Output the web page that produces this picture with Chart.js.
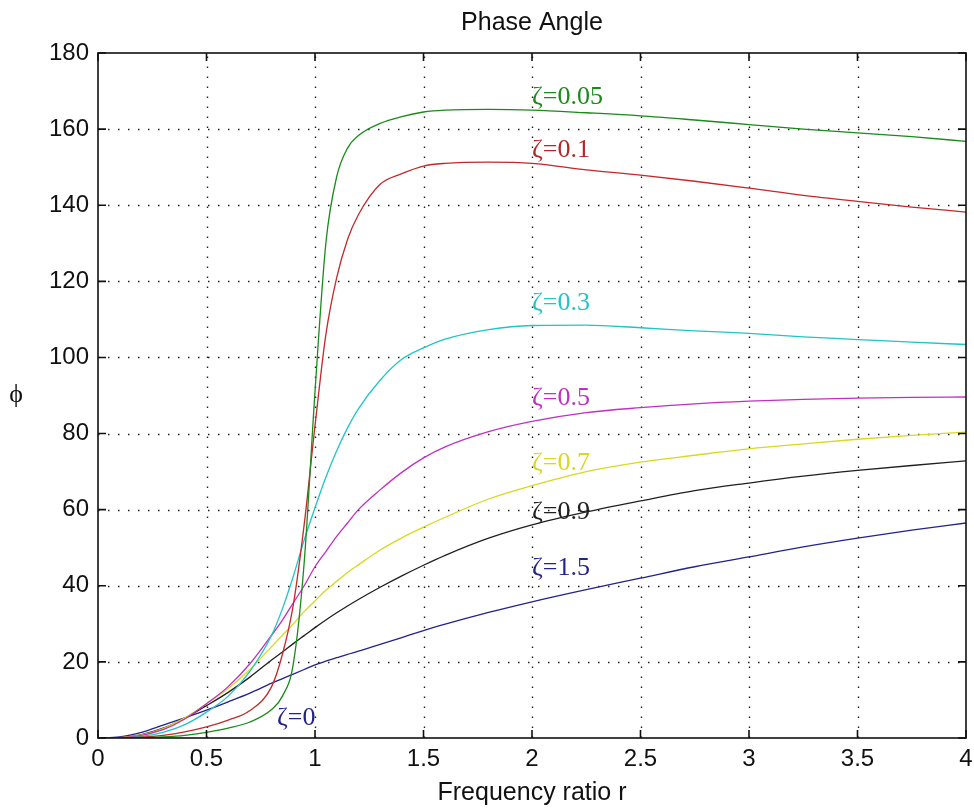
<!DOCTYPE html>
<html>
<head>
<meta charset="utf-8">
<script src="https://cdn.jsdelivr.net/npm/chart.js@4/dist/chart.umd.min.js"></script>
<style>
html,body{margin:0;padding:0;background:#fff;}
#c{display:block;}
</style>
</head>
<body>
<canvas id="c" width="974" height="811"></canvas>
<script>
// Frequency ratio r (sample positions)
const ratio = [0,0.1,0.2,0.3,0.4,0.5,0.6,0.7,0.8,0.85,0.9,0.95,1.0,1.05,1.1,1.15,1.2,1.3,1.4,1.5,1.6,1.8,2.0,2.25,2.5,2.75,3.0,3.25,3.5,3.75,4.0];

// Phase angle (deg) per damping ratio
const zeta005 = [0,0,0.1,0.3,0.7,1.5,2.6,4.2,7.5,11,19.5,46,91,130,147.5,155,158.3,161.5,163.3,164.5,165,165.2,165,164.3,163.5,162.4,161.2,160,159,158,156.8];
const zeta01  = [0,0,0.2,0.7,1.6,2.9,4.7,7.2,13.5,22,35,56,82,106,121,131,137.5,145.5,148.3,150.3,151,151.3,151,149.3,147.9,146.3,144.5,142.6,141,139.5,138.2];
const zeta03  = [0,0,0.4,1.5,3.5,6.8,11,17.5,27,34,42.5,52,60.5,68.5,75.5,81.5,86.5,94,99.5,102.5,104.8,107.3,108.4,108.5,107.8,107,106.3,105.4,104.7,104,103.4];
const zeta05  = [0,0.1,0.7,2.2,5,9,13.5,19.5,27,31,35.5,40,45,49,53,56.5,60,65.2,69.8,73.6,76.5,80.5,83.2,85.5,86.8,87.8,88.5,89,89.3,89.5,89.6];
const zeta07  = [0,0.1,0.8,2.5,5.3,9,13,18,24,27,30,33.2,36,38.8,41.2,43.5,45.5,49.4,52.6,55.4,58,62.8,66.3,70,72.5,74.3,76,77.3,78.5,79.5,80.4];
const zeta09  = [0,0.1,0.9,2.6,5.2,8.5,12,16,20.5,22.6,24.8,26.9,29,31,32.9,34.7,36.4,39.6,42.6,45.4,48,52.5,56,59.4,62.3,65,67,68.8,70.3,71.6,72.8];
const zeta15  = [0,0.3,1.5,3.4,5.3,7.3,9.5,11.8,14.4,15.6,16.8,18,19.2,20.2,21.1,22,22.8,24.6,26.4,28.2,29.9,33,35.8,39,42,45,47.6,50.2,52.5,54.6,56.5];

// Axis tick values
const xTicks = [0,0.5,1,1.5,2,2.5,3,3.5,4];
const yTicks = [0,20,40,60,80,100,120,140,160,180];

// Curve annotations: text and anchor in data units
const curveLabels = [
  {text:'ζ=0.05', x:2.0, y:168.4, color:'#1a8a1a'},
  {text:'ζ=0.1',  x:2.0, y:154.5, color:'#b02828'},
  {text:'ζ=0.3',  x:2.0, y:114.3, color:'#22c4c4'},
  {text:'ζ=0.5',  x:2.0, y:89.3,  color:'#c030c0'},
  {text:'ζ=0.7',  x:2.0, y:72.3,  color:'#d8d820'},
  {text:'ζ=0.9',  x:2.0, y:59.4,  color:'#202020'},
  {text:'ζ=1.5',  x:2.0, y:44.7,  color:'#23238a'},
  {text:'ζ=0',    x:0.825, y:5.3, color:'#23238a'}
];

const seriesDefs = [
  {name:'ζ=0.05', data:zeta005, color:'#1a8a1a'},
  {name:'ζ=0.1',  data:zeta01,  color:'#c02a2a'},
  {name:'ζ=0.3',  data:zeta03,  color:'#22c4c4'},
  {name:'ζ=0.5',  data:zeta05,  color:'#c030c0'},
  {name:'ζ=0.7',  data:zeta07,  color:'#d8d820'},
  {name:'ζ=0.9',  data:zeta09,  color:'#202020'},
  {name:'ζ=1.5',  data:zeta15,  color:'#23238a'}
];

const SANS = '"Liberation Sans", Arial, sans-serif';
const SERIF = '"Liberation Serif", "Times New Roman", serif';

const framePlugin = {
  id:'frame',
  beforeDatasetsDraw(chart){
    const {ctx, chartArea:a, scales:{x,y}} = chart;
    ctx.save();
    ctx.strokeStyle = '#222';
    ctx.lineWidth = 1.4;
    ctx.setLineDash([1.5,8.5]);
    xTicks.forEach(v=>{
      const px = Math.round(x.getPixelForValue(v))+0.5;
      if (px<=a.left+1 || px>=a.right-1) return;
      ctx.beginPath(); ctx.moveTo(px,a.bottom); ctx.lineTo(px,a.top); ctx.stroke();
    });
    yTicks.forEach(v=>{
      const py = Math.round(y.getPixelForValue(v))+0.5;
      if (py<=a.top+1 || py>=a.bottom-1) return;
      ctx.beginPath(); ctx.moveTo(a.left,py); ctx.lineTo(a.right,py); ctx.stroke();
    });
    ctx.restore();
  },
  afterDatasetsDraw(chart){
    const {ctx, chartArea:a, scales:{x,y}} = chart;
    ctx.save();
    ctx.strokeStyle = '#111';
    ctx.lineWidth = 1.6;
    ctx.setLineDash([]);
    ctx.strokeRect(a.left, a.top, a.right-a.left, a.bottom-a.top);
    const tl = 8;
    ctx.beginPath();
    xTicks.forEach(v=>{
      const px = x.getPixelForValue(v);
      ctx.moveTo(px,a.bottom); ctx.lineTo(px,a.bottom-tl);
      ctx.moveTo(px,a.top); ctx.lineTo(px,a.top+tl);
    });
    yTicks.forEach(v=>{
      const py = y.getPixelForValue(v);
      ctx.moveTo(a.left,py); ctx.lineTo(a.left+tl,py);
      ctx.moveTo(a.right,py); ctx.lineTo(a.right-tl,py);
    });
    ctx.stroke();

    // curve annotations
    ctx.font = '26px ' + SERIF;
    ctx.textAlign = 'left';
    ctx.textBaseline = 'middle';
    curveLabels.forEach(l=>{
      ctx.fillStyle = l.color;
      ctx.fillText(l.text, x.getPixelForValue(l.x), y.getPixelForValue(l.y));
    });

    // title, axis labels
    ctx.fillStyle = '#111';
    ctx.font = '25px ' + SANS;
    ctx.textAlign = 'center';
    ctx.textBaseline = 'middle';
    ctx.fillText('Phase Angle', (a.left+a.right)/2, 23);
    ctx.fillText('Frequency ratio r', (a.left+a.right)/2, 793);
    ctx.font = '26px ' + SERIF;
    ctx.fillText('ϕ', 16, (a.top+a.bottom)/2);
    ctx.restore();
  }
};

const datasets = seriesDefs.map(s=>({
  label:s.name,
  data: ratio.map((r,i)=>({x:r, y:s.data[i]})),
  borderColor:s.color,
  backgroundColor:s.color,
  borderWidth:1.3,
  pointRadius:0,
  fill:false,
  cubicInterpolationMode:'monotone'
}));

new Chart(document.getElementById('c'), {
  type:'line',
  data:{datasets},
  options:{
    responsive:false,
    animation:false,
    devicePixelRatio:1,
    layout:{padding:{top:53, right:8, left:0, bottom:0}},
    plugins:{legend:{display:false}, tooltip:{enabled:false}, title:{display:false}},
    scales:{
      x:{
        type:'linear', min:0, max:4,
        afterBuildTicks(s){ s.ticks = xTicks.map(v=>({value:v})); },
        afterFit(s){ s.height = 73; s.paddingLeft = 0; s.paddingRight = 0; },
        grid:{display:false, drawTicks:false},
        border:{display:false},
        ticks:{font:{family:SANS, size:24}, color:'#111', padding:7, maxRotation:0, autoSkip:false,
               callback:(v)=>String(v)}
      },
      y:{
        type:'linear', min:0, max:180,
        afterBuildTicks(s){ s.ticks = yTicks.map(v=>({value:v})); },
        afterFit(s){ s.width = 98; s.paddingTop = 0; s.paddingBottom = 0; },
        grid:{display:false, drawTicks:false},
        border:{display:false},
        ticks:{font:{family:SANS, size:24}, color:'#111', padding:9, autoSkip:false,
               callback:(v)=>String(v)}
      }
    }
  },
  plugins:[framePlugin]
});
</script>
</body>
</html>
